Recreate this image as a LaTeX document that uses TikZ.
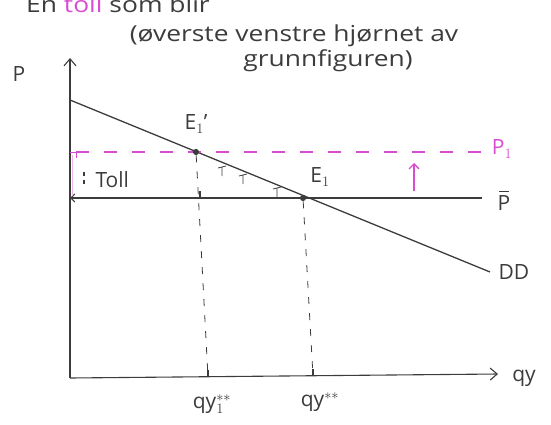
\documentclass[tikz,border=0pt]{standalone}
\usepackage{fontspec}
\setmainfont{Open Sans}
\usetikzlibrary{arrows.meta}
\definecolor{pen}{HTML}{3C3C3C}
\definecolor{tollpink}{HTML}{D84CD2}

\begin{document}
\begin{tikzpicture}[x=1pt,y=-1pt,
        axis/.style={pen, line width=1.1pt},
        demand/.style={pen, line width=1.3pt},
        guide/.style={pen, dash pattern=on 7pt off 9pt, line width=0.8pt},
        tolline/.style={tollpink, dash pattern=on 13pt off 15pt, line width=1.1pt},
        dot/.style={circle, fill=pen, inner sep=2.2pt},
        lbl/.style={pen, font=\fontsize{21}{24}\selectfont},
        note/.style={pen, font=\fontsize{22}{24}\selectfont, xscale=1.2},
        hatch/.style={pen, line width=0.8pt}]
    \useasboundingbox (0,0) rectangle (551,425);
    \clip (0,0) rectangle (551,425);

    % Heading, cut off at the top edge.
    \node[note, anchor=base west] (head) at (22,13)
        {En \textcolor{tollpink}{toll} som blir};
    \node[note] (note1) at (294,36) {(øverste venstre hjørnet av};
    \node[note] (note2) at (328,61) {grunnfiguren)};

    % Axes.
    \coordinate (O) at (70,378);
    \coordinate (ytop) at (70,58);
    \coordinate (xend) at (498,374);
    \draw[axis,-{Straight Barb[length=7pt,width=12pt]}] (O) -- (ytop);
    \draw[axis,-{Straight Barb[length=7pt,width=12pt]}] (O) -- (xend);
    \node[lbl] (Plab) at (19,74) {P};
    \node[lbl] (qylab) at (524,378) {qy};

    % Demand curve.
    \coordinate (dd0) at (70,100);
    \coordinate (dd1) at (490,272);
    \draw[demand] (dd0) -- (dd1);
    \node[lbl, anchor=west] (DD) at (495,272) {DD};

    % World price and price with toll.
    \coordinate (pb0) at (70,198);
    \coordinate (pb1) at (482,198);
    \draw[axis,{Straight Barb[length=4pt,width=8pt]}-] (pb0) -- (pb1);
    \node[lbl, inner sep=0pt] (Pbar) at (504,203) {P};
    \draw[pen, line width=1.1pt] ([xshift=-5pt,yshift=4pt]Pbar.north)
        -- ([xshift=5pt,yshift=4pt]Pbar.north);
    \coordinate (p10) at (76,152);
    \coordinate (p11) at (482,152);
    \draw[tolline] (p10) -- (p11);
    \node[tollpink, font=\fontsize{21}{24}\selectfont, inner sep=0pt]
        (P1) at (502,149) {P$_1$};

    % Equilibria.
    \node[dot] (E1p) at (196,152) {};
    \node[dot] (E1) at (303,198) {};
    \node[lbl] (E1plab) at (196,124) {E$_1$'};
    \node[lbl] (E1lab) at (320,177) {E$_1$};

    % Quantities.
    \coordinate (q1) at (208,377);
    \coordinate (q2) at (313,376);
    \draw[guide] (E1p) -- (q1);
    \draw[guide] (E1) -- (q2);
    \draw[axis] (q1) -- ++(0,-7);
    \draw[axis] (q2) -- ++(0,-7);
    \draw[axis] (200,198) -- ++(0,-7);
    \node[lbl] (q1lab) at (212,404) {qy$_1^{**}$};
    \node[lbl] (q2lab) at (320,402) {qy$^{**}$};

    % Toll between the two prices.
    \draw[tollpink, line width=1pt] (70,152) -- (76,152) -- ++(0,6);
    \draw[tollpink!40, line width=1pt] (72,155) -- (72,196);
    \draw[pen, line width=1.2pt] (84,172) -- ++(0,4) (84,180) -- ++(0,4);
    \node[lbl, anchor=west] (toll) at (92,180) {Toll};
    \foreach \x/\y in {222/168, 243/176, 277/189}
        \draw[hatch] (\x-4,\y) -- (\x+4,\y-2) (\x,\y-1) -- (\x,\y+8);
    \draw[tollpink, line width=1.3pt, -{Straight Barb[length=5pt,width=10pt]}]
        (414,191) -- (414,163);
\end{tikzpicture}
\end{document}
